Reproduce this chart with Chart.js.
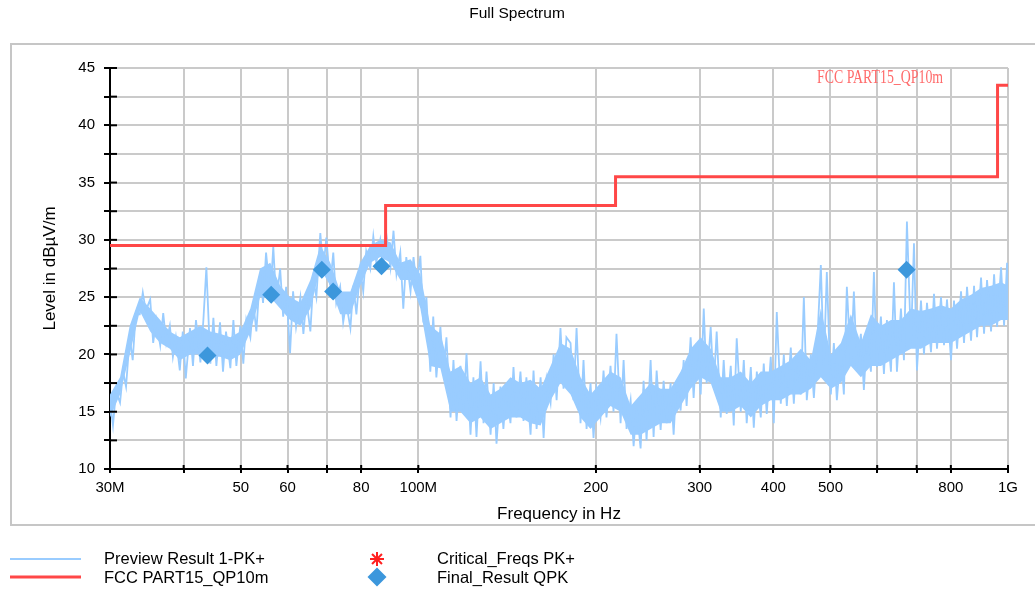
<!DOCTYPE html>
<html><head><meta charset="utf-8">
<script src="https://cdn.jsdelivr.net/npm/chart.js@4.4.0/dist/chart.umd.min.js"></script>
<style>html,body{margin:0;padding:0;background:#fff;}#wrap{position:relative;width:1035px;height:592px;}</style>
</head><body><div id="wrap"><canvas id="c" width="1035" height="592"></canvas></div>
<script>
const titleText = 'Full Spectrum';
const xTitle = 'Frequency in Hz';
const yTitle = 'Level in dBµV/m';
const xTickVals = [30,40,50,60,70,80,100,200,300,400,500,600,700,800,1000];
const xTickLabels = ['30M','','50','60','','80','100M','200','300','400','500','','','800','1G'];

// Preview Result 1-PK+ trace, peak/dip samples (MHz, dBµV/m)
const pkFreq = [
30.0,30.35,30.71, 31.2,31.57,31.94, 32.4,32.78,33.17, 33.7,34.10,34.50, 35.1,35.51,35.93,
36.5,36.93,37.37, 37.9,38.35,38.80, 39.4,39.86,40.33, 41.0,41.48,41.97, 42.7,43.20,43.71,
44.4,44.92,45.45, 46.1,46.64,47.19, 48.0,48.57,49.14, 49.9,50.49,51.08, 51.9,52.51,53.13,
53.9,54.54,55.18, 56.1,56.76,57.43, 58.3,58.99,59.68, 60.6,61.32,62.04, 63.1,63.84,64.59,
65.6,66.37,67.16, 68.2,69.00,69.82, 70.9,71.74,72.58, 73.7,74.57,75.45, 76.7,77.61,78.52,
79.7,80.64,81.59, 82.9,83.88,84.86, 86.2,87.22,88.24, 89.7,90.76,91.83, 93.2,94.30,95.41,
97.0,98.14,99.30, 100.8,102.0,103.2, 104.8,106.0,107.3, 109.0,110.3,111.6, 113.4,114.7,116.1,
117.9,119.3,120.7, 122.6,124.0,125.5, 127.5,129.0,130.5, 132.6,134.2,135.7, 137.8,139.4,141.1,
143.3,145.0,146.7, 149.0,150.8,152.5, 155.0,156.8,158.7, 161.2,163.1,165.0, 167.6,169.6,171.6,
174.2,176.3,178.3, 181.2,183.3,185.5, 188.4,190.6,192.9, 195.9,198.2,200.5, 203.7,206.1,208.5,
211.8,214.3,216.8, 220.3,222.9,225.5, 229.1,231.8,234.5, 238.2,241.0,243.8, 247.7,250.6,253.6,
257.6,260.6,263.7, 267.8,271.0,274.1, 278.5,281.8,285.1, 289.6,293.0,296.5, 301.2,304.8,308.3,
313.2,316.9,320.6, 325.7,329.5,333.4, 338.7,342.7,346.7, 352.2,356.4,360.5, 366.3,370.6,375.0,
380.8,385.3,389.8, 396.0,400.7,405.4, 411.8,416.7,421.6, 428.2,433.3,438.3, 445.3,450.6,455.8,
463.1,468.6,474.1, 481.5,487.2,492.9, 500.7,506.6,512.6, 520.7,526.8,533.0, 541.4,547.8,554.2,
563.0,569.6,576.3, 585.5,592.4,599.4, 608.8,616.0,623.2, 633.1,640.6,648.1, 658.3,666.1,673.9,
684.6,692.7,700.8, 711.9,720.3,728.8, 740.3,749.0,757.8, 769.8,778.9,788.0, 800.5,809.9,819.5,
832.4,842.2,852.1, 865.6,875.8,886.1, 900.1,910.7,921.4, 936.0,947.1,958.2, 973.3,984.8,996.4,
1000
];
const pkLevel = [
16.0,13.8,16.8, 15.8,18.5,17.2, 21.5,19.5,23.5, 23.5,25.4,23.8, 24.8,21.0,23.0,
20.8,23.6,21.0, 22.5,19.8,21.5, 18.6,22.0,17.9, 22.3,19.0,23.0, 19.3,23.0,27.6,
19.2,23.2,19.0, 22.8,18.5,22.0, 18.8,23.0,19.0, 22.5,19.2,23.0, 21.5,24.5,22.0,
27.0,24.5,28.9, 25.0,29.4,24.5, 27.5,23.3,25.9, 20.1,25.5,22.4, 25.0,21.8,24.8,
22.0,26.5,25.0, 30.6,27.4,30.2, 26.0,28.9,24.5, 25.9,22.8,24.5, 22.3,26.0,23.5,
27.5,25.5,29.0, 27.5,30.3,28.0, 30.0,28.0,30.5, 27.6,30.8,27.0, 28.9,24.0,28.5,
25.5,28.5,26.0, 28.6,22.8,25.0, 18.5,23.3,18.0, 22.4,18.5,21.5, 14.5,19.5,14.2,
19.0,15.0,20.1, 13.0,18.0,12.8, 19.4,14.0,18.5, 13.0,17.5,12.2, 17.2,13.5,17.0,
14.0,18.9,14.5, 18.5,14.2,18.0, 13.0,18.6,13.5, 18.0,12.7,17.8, 15.8,20.0,16.0,
22.3,17.0,21.5, 21.0,16.0,22.3, 14.0,19.5,13.5, 17.5,12.7,17.0, 14.5,18.6,14.5,
19.0,15.0,21.8, 14.0,19.5,13.5, 16.0,12.0,15.5, 11.8,17.7,12.5, 19.5,12.8,18.6,
13.4,17.7,14.0, 17.5,13.0,17.7, 15.1,19.5,15.5, 21.5,16.2,21.0, 16.5,24.0,17.5,
22.4,17.1,22.0, 14.5,19.5,14.8, 19.0,13.8,21.4, 15.0,19.5,14.0, 18.9,13.6,18.5,
14.5,19.2,14.8, 19.8,14.0,23.7, 15.7,20.0,15.5, 20.6,15.7,20.0, 16.5,25.0,16.0,
20.0,16.2,20.3, 27.8,19.0,27.2, 16.5,21.0,16.0, 20.5,16.5,25.9, 19.0,25.5,18.9,
21.8,16.9,21.5, 18.5,27.2,18.9, 23.3,18.3,23.0, 18.5,26.3,18.5, 24.0,19.5,31.6,
21.0,29.7,18.6, 24.7,20.0,24.5, 20.2,25.3,20.5, 25.0,20.8,24.8, 19.5,24.7,20.5,
25.5,21.0,25.9, 21.2,26.0,21.5, 26.7,21.8,26.5, 22.0,27.0,22.4, 27.6,22.5,28.0,
23.5
];

// Dense core of the same trace (where the sweep fills solid), read per segment
const coreFreq = [
30.0,31.2,32.4,33.7,35.1,36.5,37.9,39.4,41.0,42.7,44.4,46.1,48.0,49.9,51.9,
53.9,56.1,58.3,60.6,63.1,65.6,68.2,70.9,73.7,76.7,79.7,82.9,86.2,89.7,93.2,
97.0,100.8,104.8,109.0,113.4,117.9,122.6,127.5,132.6,137.8,143.3,149.0,155.0,161.2,167.6,
174.2,181.2,188.4,195.9,203.7,211.8,220.3,229.1,238.2,247.7,257.6,267.8,278.5,289.6,301.2,
313.2,325.7,338.7,352.2,366.3,380.8,396.0,411.8,428.2,445.3,463.1,481.5,500.7,520.7,541.4,
563.0,585.5,608.8,633.1,658.3,684.6,711.9,740.3,769.8,800.5,832.4,865.6,900.1,936.0,973.3,1000
];
const coreLow = [
14.5,16.5,20.0,23.8,22.0,21.0,20.5,19.5,20.0,20.0,19.8,19.8,19.5,20.0,22.0,
25.0,25.0,24.0,23.0,22.5,24.0,27.5,26.0,23.5,23.5,26.0,28.0,28.5,28.0,26.5,
26.5,24.0,19.0,18.8,15.0,15.0,14.0,14.5,13.5,14.0,14.5,14.5,14.0,13.8,16.0,
17.5,16.5,14.5,13.5,14.5,15.5,15.0,13.0,13.0,13.5,14.0,14.0,15.5,17.0,18.0,
17.5,15.0,15.0,15.5,14.5,15.5,16.0,16.0,16.5,16.5,17.0,18.0,17.0,17.5,19.0,
18.0,19.0,19.0,19.5,20.0,20.5,20.5,21.0,21.0,21.0,21.5,22.0,22.5,22.5,23.0,23.0
];
const coreHigh = [
16.5,18.0,22.5,25.0,24.0,23.0,22.0,21.5,22.0,22.5,22.0,21.8,21.5,22.0,24.0,
27.5,28.0,26.0,25.0,24.5,26.5,29.5,28.0,25.5,25.5,28.0,29.5,30.0,29.8,28.0,
28.3,27.0,22.5,21.8,18.5,19.0,17.5,18.0,16.5,17.0,18.0,17.5,17.8,17.0,19.0,
21.0,20.5,18.0,16.5,17.5,18.5,18.0,15.5,16.5,17.5,17.0,17.0,18.5,20.5,21.5,
20.5,18.0,18.0,18.5,17.5,18.5,18.5,19.0,19.5,20.5,19.5,24.0,20.0,21.0,23.5,
21.0,23.5,22.5,23.0,23.0,24.0,23.8,24.0,24.3,24.0,24.8,25.2,25.8,26.0,26.3,26.0
];

// FCC PART15_QP10m limit line
const limitFreq  = [30, 88, 88, 216, 216, 960, 960, 1000];
const limitLevel = [29.5, 29.5, 33, 33, 35.5, 35.5, 43.5, 43.5];

// Final_Result QPK
const qpkFreq  = [43.9, 56.3, 68.6, 71.7, 86.6, 673];
const qpkLevel = [19.9, 25.2, 27.4, 25.5, 27.7, 27.4];

const seriesNames = ['Preview Result 1-PK+', 'FCC PART15_QP10m', 'Critical_Freqs PK+', 'Final_Result QPK'];

const FONT = "'Liberation Sans', Arial, sans-serif";
const BLUE = '#99ccff', RED = '#ff4747', DIAM = '#3c97dc';

function diamond(c, x, y, r, color){
  c.beginPath(); c.moveTo(x, y - r); c.lineTo(x + r, y); c.lineTo(x, y + r); c.lineTo(x - r, y); c.closePath();
  c.fillStyle = color; c.fill();
}

const decor = {
  id: 'decor',
  beforeDraw(chart){
    const c = chart.ctx;
    c.save();
    c.fillStyle = '#fff'; c.fillRect(0, 0, chart.width, chart.height);
    c.strokeStyle = '#c6c6c6'; c.lineWidth = 2; c.strokeRect(11, 44, 1100, 481);
    c.fillStyle = '#000'; c.font = '15.5px ' + FONT; c.textAlign = 'center'; c.textBaseline = 'middle';
    c.fillText(titleText, 517, 14);
    c.restore();
  },
  afterDraw(chart){
    const c = chart.ctx, xs = chart.scales.x, ys = chart.scales.y;
    c.save();
    c.strokeStyle = '#000'; c.lineWidth = 2;
    ys.ticks.forEach(t => { const p = ys.getPixelForValue(t.value); c.beginPath(); c.moveTo(xs.left, p); c.lineTo(xs.left + 7, p); c.stroke(); });
    xs.ticks.forEach(t => { const p = xs.getPixelForValue(t.value); c.beginPath(); c.moveTo(p, ys.bottom); c.lineTo(p, ys.bottom - 4); c.stroke(); });
    // limit annotation
    c.save();
    c.translate(817, 78); c.scale(0.77, 1);
    c.font = "18px 'Liberation Serif', 'Times New Roman', serif"; c.fillStyle = '#ff6b6b';
    c.textAlign = 'left'; c.textBaseline = 'middle';
    c.fillText(seriesNames[1], 0, 0);
    c.restore();
    // legend
    c.lineCap = 'butt';
    c.strokeStyle = BLUE; c.lineWidth = 2; c.beginPath(); c.moveTo(10, 559); c.lineTo(81, 559); c.stroke();
    c.strokeStyle = RED; c.lineWidth = 3; c.beginPath(); c.moveTo(10, 577); c.lineTo(81, 577); c.stroke();
    c.strokeStyle = '#ff2020'; c.lineWidth = 2;
    for (let k = 0; k < 4; k++){
      const a = k * Math.PI / 4, r = 7;
      c.beginPath(); c.moveTo(377 - r * Math.cos(a), 559 - r * Math.sin(a)); c.lineTo(377 + r * Math.cos(a), 559 + r * Math.sin(a)); c.stroke();
    }
    diamond(c, 377, 577, 9.5, DIAM);
    c.fillStyle = '#000'; c.font = '16.5px ' + FONT; c.textAlign = 'left'; c.textBaseline = 'middle';
    c.fillText(seriesNames[0], 104, 559);
    c.fillText(seriesNames[1], 104, 578);
    c.fillText(seriesNames[2], 437, 559);
    c.fillText(seriesNames[3], 437, 578);
    c.restore();
  }
};

const pts = (fs, vs) => fs.map((f, i) => ({ x: f, y: vs[i] }));

new Chart(document.getElementById('c'), {
  type: 'line',
  data: {
    datasets: [
      { label: seriesNames[3], data: pts(qpkFreq, qpkLevel), showLine: false,
        pointStyle: 'rectRot', pointRadius: 9, pointBackgroundColor: DIAM, pointBorderColor: DIAM, pointBorderWidth: 0, order: 1 },
      { label: seriesNames[1], data: pts(limitFreq, limitLevel), borderColor: RED,
        borderWidth: 3, pointRadius: 0, tension: 0, fill: false, order: 2 },
      { label: seriesNames[0], data: pts(pkFreq, pkLevel), borderColor: BLUE,
        borderWidth: 1.8, pointRadius: 0, tension: 0, fill: false, order: 3 },
      { label: 'core-low', data: pts(coreFreq, coreLow), borderColor: 'rgba(0,0,0,0)', borderWidth: 0,
        pointRadius: 0, tension: 0, fill: false, order: 4 },
      { label: 'core-high', data: pts(coreFreq, coreHigh), borderColor: 'rgba(0,0,0,0)', borderWidth: 0,
        pointRadius: 0, tension: 0, fill: '-1', backgroundColor: BLUE, order: 4 }
    ]
  },
  options: {
    responsive: false, animation: false, devicePixelRatio: 1,
    layout: { padding: { left: 0, right: 27, top: 68, bottom: 67 } },
    plugins: { legend: { display: false }, title: { display: false }, tooltip: { enabled: false },
               filler: { propagate: false } },
    scales: {
      x: {
        type: 'logarithmic', min: 30, max: 1000,
        afterBuildTicks: s => { s.ticks = xTickVals.map(v => ({ value: v })); },
        afterFit: s => { s.height = 56; },
        ticks: { autoSkip: false, maxRotation: 0, color: '#000', font: { size: 15, family: FONT }, padding: 6,
                 callback: (v, i) => xTickLabels[i] },
        grid: { color: '#cacaca', lineWidth: 2, tickLength: 4, tickColor: '#000', tickWidth: 2 },
        border: { color: '#000', width: 2 },
        title: { display: true, text: xTitle, color: '#000', font: { size: 17, family: FONT }, padding: { top: 0, bottom: 0 } }
      },
      y: {
        min: 10, max: 45,
        afterFit: s => { s.width = 110; },
        ticks: { stepSize: 2.5, color: '#000', font: { size: 15, family: FONT }, padding: 9,
                 callback: v => (v % 5 === 0 ? String(v) : '') },
        grid: { color: '#cacaca', lineWidth: 2, tickLength: 6, tickColor: '#000', tickWidth: 2 },
        border: { color: '#000', width: 2 },
        title: { display: true, text: yTitle, color: '#000', font: { size: 17, family: FONT }, padding: { top: 40, bottom: 0 } }
      }
    }
  },
  plugins: [decor]
});
</script></body></html>
